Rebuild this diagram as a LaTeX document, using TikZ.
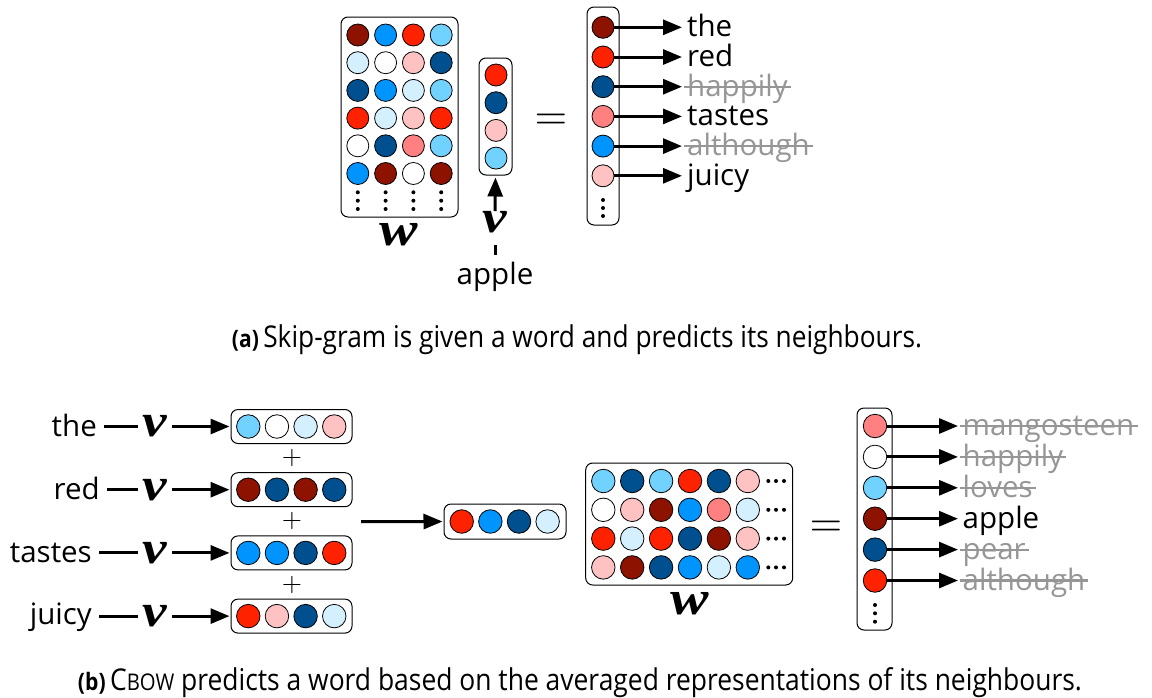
\documentclass[tikz,border=0pt]{standalone}
\usepackage{amsmath}
\usepackage{fontspec}
\setmainfont{Open Sans}
\newfontfamily\symfont{Liberation Serif}
\usetikzlibrary{arrows.meta}
\definecolor{cDR}{RGB}{142,18,0}
\definecolor{cR}{RGB}{255,34,0}
\definecolor{cS}{RGB}{255,128,128}
\definecolor{cP}{RGB}{255,194,194}
\definecolor{cW}{RGB}{255,255,255}
\definecolor{cLB}{RGB}{212,240,255}
\definecolor{cSB}{RGB}{114,210,255}
\definecolor{cAB}{RGB}{0,148,255}
\definecolor{cDB}{RGB}{0,80,144}
\definecolor{struckgray}{RGB}{150,150,150}
\newcommand{\bigv}{\scalebox{1.2}[1]{\fontsize{46}{46}\selectfont\symfont\bfseries\itshape v}}
\newcommand{\bigw}{\scalebox{1.2}[1]{\fontsize{48}{48}\selectfont\symfont\bfseries\itshape w}}
\newcommand{\bigeq}{\scalebox{4.2}{$=$}}
\newcommand{\bigplus}{\scalebox{2.6}{$+$}}
\tikzset{
 box/.style={draw=black, line width=1pt, rounded corners=7pt, inner sep=0pt},
 dota/.style={circle, draw=black, line width=0.8pt, minimum size=22pt, inner sep=0pt},
 dotb/.style={circle, draw=black, line width=0.8pt, minimum size=23.5pt, inner sep=0pt},
 word/.style={font=\fontsize{29.5}{29.5}\selectfont, inner sep=3pt},
 gone/.style={word, text=struckgray},
 strike/.style={draw=struckgray, line width=2.2pt},
 mlbl/.style={inner sep=0pt},
 eqsign/.style={inner sep=0pt},
 conn/.style={line width=3pt},
 arr/.style={line width=3pt, -{Triangle[length=19pt,width=15pt]}},
 caption/.style={inner sep=0pt, anchor=base}
}
\begin{document}
\begin{tikzpicture}[x=1pt,y=-1pt]
\useasboundingbox (0,0) rectangle (1152,697);

%%%%%%%%%%%%%%%% (a) skip-gram
% W matrix
\node[box, minimum width=117pt, minimum height=200pt] (Wa) at (399.5,117) {};
\foreach \row [count=\r] in {{cDR,cAB,cR,cSB},{cLB,cW,cP,cDB},{cDB,cAB,cLB,cSB},{cR,cLB,cP,cR},{cW,cDB,cS,cSB},{cAB,cDR,cW,cDR}}
  \foreach \c [count=\k] in \row
    \node[dota, fill=\c] (wa-\r-\k) at ({330+27.8*\k}, {7.3+27.7*\r}) {};
\foreach \k in {1,...,4} \foreach \yy in {192.3,200.7,209} \fill ({330+27.8*\k},\yy) circle (2pt);
\node[mlbl] (Walab) at (399,235) {\bigw};

% v vector
\node[box, minimum width=33pt, minimum height=117pt] (va) at (495.5,116.5) {};
\foreach \c [count=\i] in {cR,cDB,cP,cSB}
  \node[dota, fill=\c] (va-\i) at (496, {47.3+27.7*\i}) {};
\node[mlbl] (valab) at (495,222) {\bigv};
\node[word, anchor=base] (applea) at (495,284) {apple};
\draw[conn, shorten <=12pt, shorten >=3pt] (valab.south) -- (applea.north);
\draw[arr, shorten >=2pt] (valab.north) -- (va.south);

\node[eqsign] (eqa) at (551,121.8) {\bigeq};

% output vector
\node[box, minimum width=32pt, minimum height=218pt] (oa) at (603,116) {};
\foreach \c [count=\i] in {cDR,cR,cDB,cS,cAB,cP}
  \node[dota, fill=\c] (oa-\i) at (603, {27.3+29.7*(\i-1)}) {};
\foreach \yy in {200,208,216} \fill (603,\yy) circle (2pt);
\node[word, anchor=base west] (wa1) at (684,36.8) {the};
\node[word, anchor=base west] (wa2) at (684,66.5) {red};
\node[gone, anchor=base west] (wa3) at (684,96.2) {happily};
\node[word, anchor=base west] (wa4) at (684,125.9) {tastes};
\node[gone, anchor=base west] (wa5) at (684,155.6) {although};
\node[word, anchor=base west] (wa6) at (684,185.3) {juicy};
\foreach \i in {1,...,6} \draw[arr, shorten >=2pt] (oa-\i.east) -- (oa-\i -| wa\i.west);
\draw[strike] (wa3.west |- oa-3) -- (wa3.east |- oa-3);
\draw[strike] (wa5.west |- oa-5) -- (wa5.east |- oa-5);

\node[caption] (capa) at (577,347) {\resizebox{690pt}{\height}{\fontsize{30}{30}\selectfont{\fontsize{24}{24}\selectfont\bfseries (a)}\hspace{5pt}Skip-gram is given a word and predicts its neighbours.}};

%%%%%%%%%%%%%%%% (b) CBOW
% input rows
\node[box, minimum width=121pt, minimum height=34pt] (ib1) at (291.5,426.5) {};
\node[box, minimum width=121pt, minimum height=34pt] (ib2) at (291.5,489.7) {};
\node[box, minimum width=121pt, minimum height=34pt] (ib3) at (291.5,552.9) {};
\node[box, minimum width=121pt, minimum height=34pt] (ib4) at (291.5,616.1) {};
\foreach \c [count=\k] in {cSB,cW,cLB,cP} \node[dotb, fill=\c] (ib1-\k) at ({248.3+28.65*(\k-1)}, 426.5) {};
\foreach \c [count=\k] in {cDR,cDB,cDR,cDB} \node[dotb, fill=\c] (ib2-\k) at ({248.3+28.65*(\k-1)}, 489.7) {};
\foreach \c [count=\k] in {cAB,cAB,cDB,cR} \node[dotb, fill=\c] (ib3-\k) at ({248.3+28.65*(\k-1)}, 552.9) {};
\foreach \c [count=\k] in {cR,cP,cDB,cLB} \node[dotb, fill=\c] (ib4-\k) at ({248.3+28.65*(\k-1)}, 616.1) {};

\node[word, anchor=base east] (tb1) at (100,436) {the};
\node[word, anchor=base east] (tb2) at (103,499.2) {red};
\node[word, anchor=base east] (tb3) at (95,562.4) {tastes};
\node[word, anchor=base east] (tb4) at (95,624) {juicy};
\node[mlbl] (vb1) at (155,426.5) {\bigv};
\node[mlbl] (vb2) at (155,489.7) {\bigv};
\node[mlbl] (vb3) at (155,552.9) {\bigv};
\node[mlbl] (vb4) at (155,616.1) {\bigv};
\foreach \i in {1,...,4} {
  \draw[conn, shorten <=4pt, shorten >=5pt] (vb\i -| tb\i.east) -- (vb\i.west);
  \draw[arr, shorten <=5pt, shorten >=1pt] (vb\i.east) -- (ib\i.west);
}
\node[mlbl] (plus1) at (292,458) {\bigplus};
\node[mlbl] (plus2) at (292,521.3) {\bigplus};
\node[mlbl] (plus3) at (292,584.5) {\bigplus};

% averaged vector
\coordinate (mstart) at (361,521.7);
\node[box, minimum width=122pt, minimum height=35pt] (avg) at (505,521.5) {};
\foreach \c [count=\k] in {cR,cAB,cDB,cLB} \node[dotb, fill=\c] (avg-\k) at ({461.7+28.65*(\k-1)}, 521.5) {};
\draw[arr, shorten >=1pt] (mstart) -- (avg.west);

% W matrix
\node[box, minimum width=207pt, minimum height=122pt] (Wb) at (689.2,524) {};
\foreach \row [count=\r] in {{cSB,cDB,cSB,cR,cDB,cP},{cW,cP,cDR,cAB,cS,cLB},{cR,cLB,cR,cDB,cDR,cP},{cP,cDR,cDB,cAB,cLB,cAB}} {
  \foreach \c [count=\k] in \row
    \node[dotb, fill=\c] (wb-\r-\k) at ({603.3+28.9*(\k-1)}, {481+28.8*(\r-1)}) {};
  \foreach \xx in {768.3,776,784} \fill (\xx, {481+28.8*(\r-1)}) circle (2pt);
}
\node[mlbl] (Wblab) at (690,603.5) {\bigw};
\node[eqsign] (eqb) at (826,528.8) {\bigeq};

% output vector
\node[box, minimum width=35pt, minimum height=222pt] (ob) at (874.5,519) {};
\foreach \c [count=\i] in {cS,cW,cSB,cDR,cDB,cR}
  \node[dotb, fill=\c] (ob-\i) at (875, {426+30.9*(\i-1)}) {};
\foreach \yy in {605,613.3,621.7} \fill (875,\yy) circle (2pt);
\node[gone, anchor=base west] (wb1) at (959.5,435.5) {mangosteen};
\node[gone, anchor=base west] (wb2) at (959.5,466.4) {happily};
\node[gone, anchor=base west] (wb3) at (959.5,497.3) {loves};
\node[word, anchor=base west] (wb4) at (959.5,528.2) {apple};
\node[gone, anchor=base west] (wb5) at (959.5,559.1) {pear};
\node[gone, anchor=base west] (wb6) at (959.5,590) {although};
\foreach \i in {1,...,6} \draw[arr, shorten >=1.5pt] (ob-\i.east) -- (ob-\i -| wb\i.west);
\foreach \i in {1,2,3,5,6} \draw[strike] (wb\i.west |- ob-\i) -- (wb\i.east |- ob-\i);

\node[caption] (capb) at (580,690) {\resizebox{1004pt}{\height}{\fontsize{30}{30}\selectfont{\fontsize{24}{24}\selectfont\bfseries (b)}\hspace{5pt}C{\fontsize{23}{23}\selectfont BOW} predicts a word based on the averaged representations of its neighbours.}};
\end{tikzpicture}
\end{document}
